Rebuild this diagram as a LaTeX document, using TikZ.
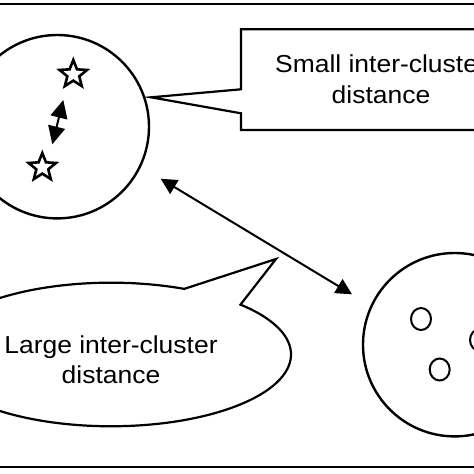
\documentclass[tikz,border=0pt]{standalone}
\usepackage{fontspec}
\setmainfont{Liberation Sans}
\usetikzlibrary{shapes.geometric,arrows.meta}
\tikzset{
  cluster/.style={draw, circle, minimum size=183.4pt, inner sep=0pt, line width=2.4pt},
  starpt/.style={draw, star, star points=5, star point ratio=2.3, minimum size=28.8pt, inner sep=0pt, line width=2.6pt},
  dot/.style={draw, ellipse, minimum width=20pt, minimum height=22pt, inner sep=0pt, line width=2pt},
  callout/.style={draw, line width=2.2pt, fill=white},
  lbl/.style={anchor=base, inner sep=0pt, font=\fontsize{24.5pt}{29pt}\selectfont},
  bigarrow/.style={line width=2pt, {Triangle[length=16pt,width=16pt]}-{Triangle[length=16pt,width=16pt]}},
  smallarrow/.style={line width=2pt, {Triangle[length=18pt,width=17pt]}-{Triangle[length=18pt,width=17pt]}}
}
\newcommand{\wtxt}[1]{\scalebox{1.08}[1]{#1}}
\begin{document}
\begin{tikzpicture}[x=1pt,y=-1pt]
\useasboundingbox (0,0) rectangle (474,474);
\clip (0,0) rectangle (474,474);
\fill[white] (0,0) rectangle (474,474);
% frame
\draw[line width=2.2pt] (-10,4) rectangle (484,467.3);
% clusters
\node[cluster] (c1) at (57.3,126.7) {};
\node[cluster] (c2) at (454.7,344.7) {};
% stars
\node[starpt] (s1) at (73.3,74.4) {};
\node[starpt] (s2) at (42.3,167.4) {};
% small arrow
\coordinate (a1) at (63.3,100);
\coordinate (a2) at (52.3,144.3);
\draw[smallarrow] (a1) -- (a2);
% dots
\node[dot] (d1) at (421,319) {};
\node[dot] (d2) at (439.7,369.5) {};
\node[dot] (d3) at (480,340) {};
% long arrow
\coordinate (b1) at (160.7,178.8);
\coordinate (b2) at (352,294.3);
\draw[bigarrow] (b1) -- (b2);
% rectangle callout
\coordinate (p1) at (151,97.3);
\draw[callout] (241,89.3) -- (241,29.3) -- (520,29.3) -- (520,130) -- (241,130) -- (241,113.3) -- (p1) -- cycle;
\node[lbl] (t1a) at (381,72.7) {\wtxt{Small inter-cluster}};
\node[lbl] (t1b) at (381,103.3) {\wtxt{distance}};
% ellipse callout
\coordinate (eb) at (240.5,304.6);
\coordinate (p2) at (276,259);
\draw[callout] (eb) arc[start angle=-44, end angle=294, x radius=180, y radius=71.8] -- (p2) -- cycle;
\node[lbl] (t2a) at (111,353.3) {\wtxt{Large inter-cluster}};
\node[lbl] (t2b) at (111,383.3) {\wtxt{distance}};
\end{tikzpicture}
\end{document}
